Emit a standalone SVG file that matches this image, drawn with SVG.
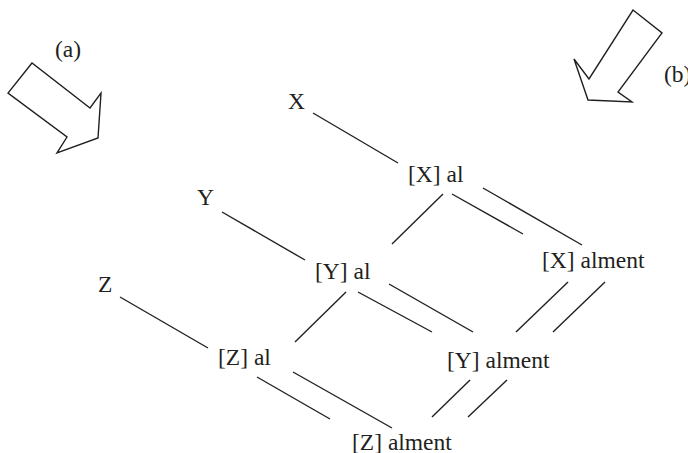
<svg xmlns="http://www.w3.org/2000/svg" width="688" height="453" viewBox="0 0 688 453">
<style>
text{font-family:"Liberation Serif","Times New Roman",serif;font-size:23.5px;fill:#231f20}
.c line{stroke:#231f20;stroke-width:1.4;stroke-linecap:butt}
.arr{fill:#fff;stroke:#231f20;stroke-width:1.4;stroke-linejoin:miter}
</style>
<rect width="688" height="453" fill="#fff"/>
<g id="arrow-a">
<polygon class="arr" points="32,63 8,93 67,137 57,153 98,138 101,93 90,108"/>
<text x="55" y="57">(a)</text>
</g>
<g id="arrow-b">
<polygon class="arr" points="633,10 662,33 618,92 632,102 588,100 574,59 589,79"/>
<text x="664" y="82">(b)</text>
</g>
<g class="c" id="connectors">
<line x1="313" y1="113" x2="398" y2="163"/>
<line x1="222" y1="212" x2="305" y2="260"/>
<line x1="120" y1="297" x2="208" y2="348"/>
<line x1="443" y1="194" x2="392" y2="244"/>
<line x1="452" y1="194" x2="523" y2="234"/>
<line x1="483" y1="188" x2="582" y2="245"/>
<line x1="346" y1="292" x2="295" y2="342"/>
<line x1="358" y1="292" x2="432" y2="332"/>
<line x1="389" y1="284" x2="473" y2="332"/>
<line x1="568" y1="282" x2="516" y2="332"/>
<line x1="605" y1="282" x2="553" y2="332"/>
<line x1="257" y1="377" x2="330" y2="419"/>
<line x1="293" y1="372" x2="392" y2="428"/>
<line x1="470" y1="380" x2="432" y2="417"/>
<line x1="507" y1="380" x2="468" y2="417"/>
</g>
<g id="node-X"><text x="288" y="109">X</text></g>
<g id="node-Y"><text x="197" y="205">Y</text></g>
<g id="node-Z"><text x="98" y="292">Z</text></g>
<g id="node-Xal"><text x="408" y="182">[X] al</text></g>
<g id="node-Yal"><text x="315" y="279">[Y] al</text></g>
<g id="node-Zal"><text x="218" y="365">[Z] al</text></g>
<g id="node-Xalment"><text x="542" y="268">[X] alment</text></g>
<g id="node-Yalment"><text x="447" y="368">[Y] alment</text></g>
<g id="node-Zalment"><text x="352" y="450">[Z] alment</text></g>
</svg>
